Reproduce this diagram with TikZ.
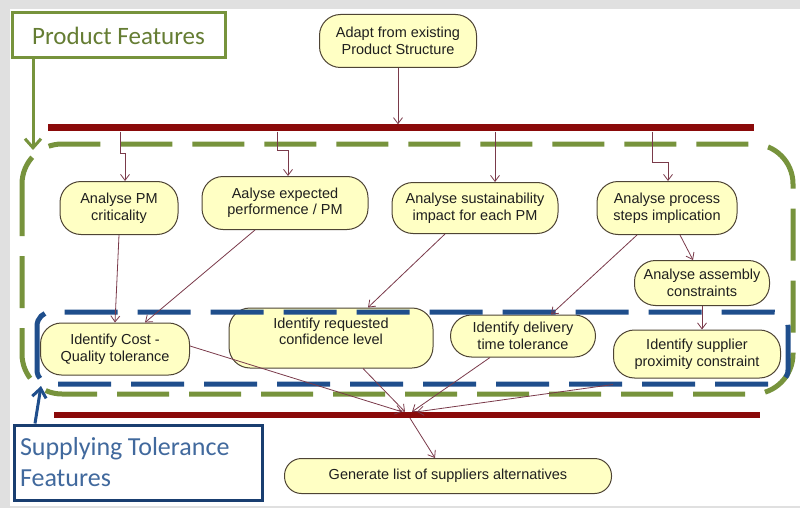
\documentclass[tikz,border=0pt]{standalone}
\usepackage{fontspec}
\setmainfont{Liberation Sans}
\newfontfamily\calloutfont{Carlito}
\usetikzlibrary{arrows.meta}
\definecolor{pfgreen}{HTML}{77933C}
\definecolor{stblue}{HTML}{1F4E8C}
\definecolor{barred}{HTML}{8A0A0A}
\definecolor{taskfill}{HTML}{FFFFC4}
\definecolor{taskline}{HTML}{4E4434}
\definecolor{flowline}{HTML}{7A3A4A}
\tikzset{
        task/.style={draw=taskline, fill=taskfill, rounded corners=21pt, line width=1pt, align=center, text=black!88, font=\fontsize{14.5}{16.5}\selectfont, inner sep=2pt},
        bar/.style={fill=barred, inner sep=0pt, minimum height=7pt},
        flow/.style={draw=flowline, line width=0.8pt, -{Straight Barb[length=6pt,width=9pt]}},
        pfzone/.style={draw=pfgreen, line width=5pt, dash pattern=on 52pt off 20pt, rounded corners=40pt},
        stzone/.style={draw=stblue, line width=5pt, dash pattern=on 53pt off 20pt, rounded corners=14pt},
        pfbox/.style={draw=pfgreen, line width=3pt, fill=white, text=pfgreen!85!black, font=\calloutfont\fontsize{25}{30}\selectfont},
        stbox/.style={draw=stblue!80!black, line width=3pt, fill=white, text=stblue!85!white, align=left, font=\calloutfont\fontsize{26}{31}\selectfont, execute at begin node={\spaceskip=5.5pt plus 1pt\relax}},
        pfarrow/.style={draw=pfgreen, line width=3pt, -{Straight Barb[length=9pt,width=16pt,line width=3pt]}},
        starrow/.style={draw=stblue, line width=3pt, -{Straight Barb[length=9pt,width=14pt,line width=3pt]}}
          }
\begin{document}
\begin{tikzpicture}[x=1pt,y=-1pt]
        \fill[black!12] (0,0) rectangle (800,508);
        \fill[white] (10,9) rectangle (800,506);
        \useasboundingbox (0,0) rectangle (800,508);

        \node[task, minimum width=157pt, minimum height=53pt] (adapt) at (398,41) {Adapt from existing\\Product Structure};
        \node[bar, minimum width=706pt] (topbar) at (401,128) {};
        \node[task, minimum width=118pt, minimum height=53pt] (pmcrit) at (119,208) {Analyse PM\\criticality};
        \node[task, minimum width=166pt, minimum height=53pt] (perf) at (285,203) {Aalyse expected\\performence / PM};
        \node[task, minimum width=166pt, minimum height=51pt] (sustain) at (475,208) {Analyse sustainability\\impact for each PM};
        \node[task, minimum width=140pt, minimum height=53pt] (process) at (667,208) {Analyse process\\steps implication};
        \node[task, minimum width=135pt, minimum height=45pt] (assembly) at (702,283) {Analyse assembly\\constraints};
        \node[task, minimum width=149pt, minimum height=52pt] (costq) at (115,349) {Identify Cost -\\Quality tolerance};
        \node[task, minimum width=204pt, minimum height=60pt, text depth=14pt] (confid) at (331,338) {Identify requested\\confidence level};
        \node[task, minimum width=145pt, minimum height=42pt] (delivery) at (523,336) {Identify delivery\\time tolerance};
        \node[task, minimum width=167pt, minimum height=48pt] (supplier) at (697,354) {Identify supplier\\proximity constraint};
        \node[bar, minimum width=706pt, minimum height=6pt] (lowbar) at (407,415) {};
        \node[task, minimum width=327pt, minimum height=35pt, rounded corners=17pt] (generate) at (448,476) {Generate list of suppliers alternatives};

        \draw[pfzone] (22,144) rectangle (793,394);
        \draw[stzone] (37,312) rectangle (788,384);

        \draw[flow] (adapt.south) -- (adapt.south |- topbar.north);
        \draw[flow] (120,0 |- topbar.south) -- (120,153) -| ([xshift=6pt]pmcrit.north);
        \draw[flow] (277,0 |- topbar.south) -- (277,150) -| ([xshift=3pt]perf.north);
        \draw[flow] (495,0 |- topbar.south) -- ([xshift=20pt]sustain.north);
        \draw[flow] (652,0 |- topbar.south) -- (652,162) -| ([xshift=1pt]process.north);
        \draw[flow] (pmcrit.south) -- (costq.north);
        \draw[flow] ([xshift=-30pt]perf.south) -- ([xshift=30pt]costq.north);
        \draw[flow] ([xshift=-30pt]sustain.south) -- ([xshift=37pt]confid.north);
        \draw[flow] ([xshift=-30pt]process.south) -- ([xshift=28pt]delivery.north);
        \draw[flow] ([xshift=13pt]process.south) -- ([xshift=-9pt]assembly.north);
        \draw[flow] (assembly.south) -- (assembly.south |- supplier.north);
        \coordinate (merge) at (409,0 |- lowbar.north);
        \draw[flow] ([yshift=3pt]costq.east) -- ([xshift=-7pt]merge);
        \draw[flow] ([xshift=32pt]confid.south) -- ([xshift=-4pt]merge);
        \draw[flow] ([xshift=-33pt]delivery.south) -- ([xshift=3pt]merge);
        \draw[flow] ([yshift=-6pt]supplier.south west) -- ([xshift=8pt]merge);
        \draw[flow] (410,0 |- lowbar.south) -- ([xshift=-13pt]generate.north);

        \node[pfbox, minimum width=213pt, minimum height=45pt] (pf) at (118.5,35.5) {Product Features};
        \coordinate (pfend) at (33,150);
        \draw[pfarrow] (pf.south -| pfend) -- (pfend);
        \node[stbox, text width=236pt, inner xsep=6pt, minimum height=75pt] (stf) at (138,462.5) {Supplying Tolerance\\Features};
        \coordinate (stend) at (41,386);
        \draw[starrow] (35,0 |- stf.north) -- (stend);
      \end{tikzpicture}
\end{document}
